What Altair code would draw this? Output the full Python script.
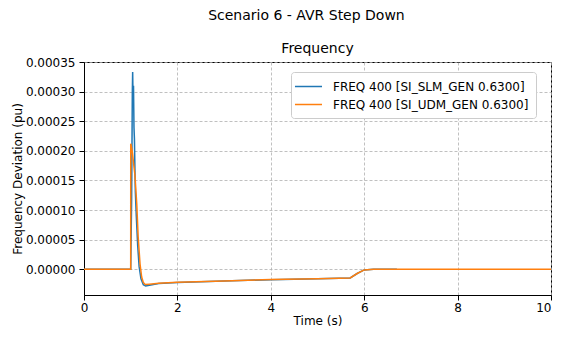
import altair as alt
import pandas as pd

series_names = ["FREQ 400 [SI_SLM_GEN 0.6300]", "FREQ 400 [SI_UDM_GEN 0.6300]"]
colors = ["#1f77b4", "#ff7f0e"]

slm_t = [0, 1.0, 1.02, 1.035, 1.042, 1.05, 1.06, 1.07, 1.08, 1.09, 1.10, 1.12, 1.15, 1.18,
         1.22, 1.27, 1.32, 1.4, 1.6, 2.0, 3.0, 4.0, 5.0, 5.7, 5.85, 6.0, 6.2, 6.7]
slm_v = [0, 0, 0.00012, 0.00030, 0.000333, 0.00029, 0.00031, 0.00024, 0.00022, 0.00017,
         0.00013, 0.00009, 0.00004, 0.000005, -0.000016, -0.000026, -0.000028, -0.000027,
         -0.000024, -0.000022, -0.0000195, -0.0000175, -0.000016, -0.0000145, -0.000007,
         -0.000001, 0, 0]

udm_t = [0, 1.0, 1.001, 1.02, 1.04, 1.06, 1.09, 1.13, 1.16, 1.20, 1.235, 1.27, 1.31, 1.4,
         1.6, 2.0, 3.0, 4.0, 5.0, 5.7, 5.85, 6.0, 6.2, 10]
udm_v = [0, 0, 0.000212, 0.000205, 0.000195, 0.00018, 0.00016, 0.00011, 0.000055, 0.000009,
         -0.000013, -0.000022, -0.0000256, -0.000025, -0.0000235, -0.0000217, -0.0000195,
         -0.0000172, -0.0000158, -0.0000145, -0.000007, -0.000001, 0, 0]

x_ticks = [0, 2, 4, 6, 8, 10]
y_ticks = [0.0, 0.00005, 0.0001, 0.00015, 0.0002, 0.00025, 0.0003, 0.00035]

rows = []
for i, (t, v) in enumerate(zip(slm_t, slm_v)):
    rows.append({"t": t, "v": v, "s": series_names[0], "o": i})
for i, (t, v) in enumerate(zip(udm_t, udm_v)):
    rows.append({"t": t, "v": v, "s": series_names[1], "o": i})
df = pd.DataFrame(rows)

line = alt.Chart(df).mark_line(strokeWidth=1.5, clip=True).encode(
    x=alt.X("t:Q", title="Time (s)",
            scale=alt.Scale(domain=[0, 10], nice=False, zero=False),
            axis=alt.Axis(values=x_ticks, format="d", labelPadding=2, titlePadding=2,
                          labelFlush=False,
                          labelAlign={"condition": {"test": "datum.value == 10", "value": "right"},
                                      "value": "center"})),
    y=alt.Y("v:Q", title="Frequency Deviation (pu)",
            scale=alt.Scale(domain=[-0.0000433, 0.00035], nice=False, zero=False),
            axis=alt.Axis(values=y_ticks, format=".5f", labelPadding=4, titlePadding=1)),
    color=alt.Color("s:N", scale=alt.Scale(domain=series_names, range=colors),
                    legend=alt.Legend(title=None, orient="none", legendX=207, legendY=10,
                                      symbolType="M-1.57,0H2.46", symbolSize=180,
                                      symbolStrokeWidth=1.5, symbolFillColor="transparent",
                                      labelOffset=20,
                                      labelFontSize=12, labelFont="DejaVu Sans",
                                      labelColor="black", labelLimit=400,
                                      strokeColor="#cccccc", fillColor="white",
                                      cornerRadius=3, padding=7, rowPadding=4)),
    detail="s:N",
    order="o:Q",
).properties(
    width=467, height=233,
    title=alt.Title("Frequency", fontSize=14, font="DejaVu Sans", fontWeight="normal",
                    color="black", offset=0, frame="group"),
)

chart = alt.vconcat(line).properties(
    background="white",
    padding={"left": 2, "top": 0, "right": 0, "bottom": 0},
    title=alt.Title("Scenario 6 - AVR Step Down", fontSize=14, font="DejaVu Sans",
                    fontWeight="normal", color="black", anchor="middle", dx=25, offset=19),
).configure_view(
    stroke="black", strokeWidth=1
).configure_axis(
    labelFont="DejaVu Sans", labelFontSize=12, labelColor="black",
    titleFont="DejaVu Sans", titleFontSize=12, titleFontWeight="normal", titleColor="black",
    domainColor="black", tickColor="black", tickSize=5,
    gridColor="#b0b0b0", gridDash=[3, 2], gridWidth=0.8,
)

chart.save("out.html", embed_options={"renderer": "svg", "actions": False})
